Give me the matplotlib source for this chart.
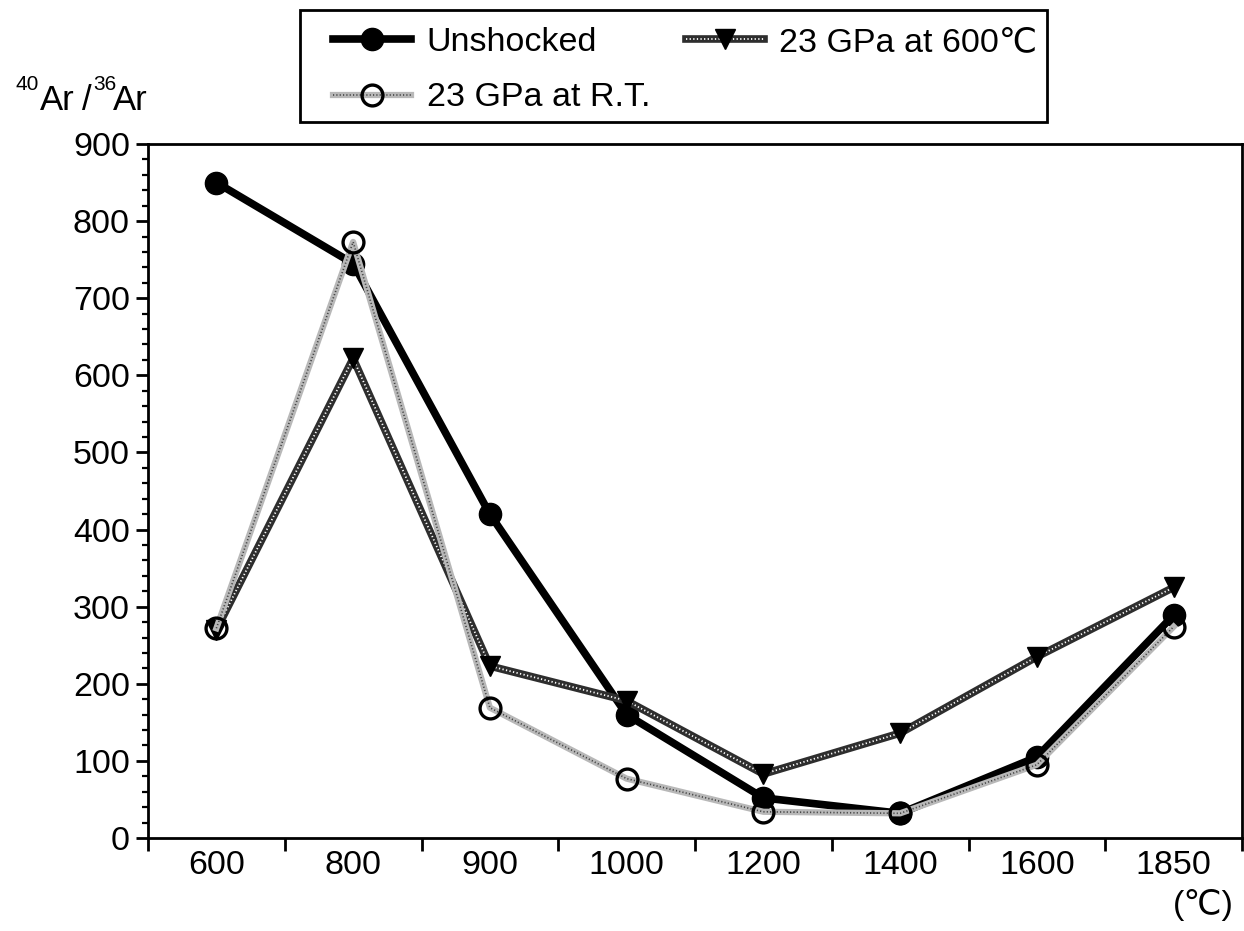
import matplotlib
matplotlib.use("Agg")
import matplotlib.pyplot as plt
import numpy as np
from matplotlib.patches import Rectangle
from matplotlib.ticker import FixedLocator, MultipleLocator, NullFormatter

plt.rcParams['font.family'] = ['Liberation Sans', 'DejaVu Sans']

# Heating steps (degrees C) and 40Ar/36Ar ratios
temperatures = ["600", "800", "900", "1000", "1200", "1400", "1600", "1850"]
unshocked = [850, 745, 420, 160, 52, 32, 105, 289]
shocked_600c = [270, 622, 223, 178, 83, 136, 235, 325]
shocked_rt = [272, 773, 169, 77, 34, 32, 95, 274]

FS = 24.5
W, H = 1244, 931

fig = plt.figure(figsize=(W / 100, H / 100), dpi=100)
ax = fig.add_axes([148/W, 1-838/H, (1242-148)/W, (838-144)/H])

x = np.arange(len(temperatures)) + 0.5

# solid black series
h_un, = ax.plot(x, unshocked, color='black', lw=5.5, marker='o', ms=16,
                mfc='black', mec='black', solid_joinstyle='round', zorder=3)

# dark screened series: dark band with a fine white dot pattern on top
h_6a, = ax.plot(x, shocked_600c, color='#2e2e2e', lw=5.5, zorder=4)
h_6b, = ax.plot(x, shocked_600c, color='white', lw=1.3,
                linestyle=(0, (0.7, 1.3)), marker='v', ms=15,
                mfc='black', mec='black', zorder=4.1)

# light screened series: pale band with a fine dark dot pattern on top
h_ra, = ax.plot(x, shocked_rt, color='#b8b8b8', lw=4.5, zorder=5)
h_rb, = ax.plot(x, shocked_rt, color='#444444', lw=1.2,
                linestyle=(0, (0.7, 1.3)), marker='o', ms=15,
                mfc='none', mec='black', mew=2.4, zorder=5.1)

ax.set_xlim(0, len(temperatures))
ax.set_ylim(0, 900)

# category boundaries carry the tick marks, centres carry the labels
ax.xaxis.set_major_locator(FixedLocator(np.arange(len(temperatures) + 1)))
ax.xaxis.set_major_formatter(NullFormatter())
ax.xaxis.set_minor_locator(FixedLocator(x))
ax.set_xticklabels(temperatures, minor=True)
ax.tick_params(axis='x', which='major', direction='out', length=9, width=2)
ax.tick_params(axis='x', which='minor', length=0, pad=9, labelsize=FS)

ax.yaxis.set_major_locator(MultipleLocator(100))
ax.yaxis.set_minor_locator(MultipleLocator(20))
ax.tick_params(axis='y', which='major', direction='out', length=9, width=2,
               labelsize=FS, pad=4)
ax.tick_params(axis='y', which='minor', direction='out', length=4, width=1.6)

for s in ax.spines.values():
    s.set_linewidth(2)

# y-axis title: 40Ar / 36Ar built from pieces with raised mass numbers
def px(xp, yp):
    return xp / W, 1 - yp / H

for txt, (xp, yp), size in [("40", (16, 90), 15), ("Ar", (40, 110), 25),
                            ("/", (82, 110), 25), ("36", (93, 90), 15),
                            ("Ar", (113, 110), 25)]:
    fig.text(*px(xp, yp), txt, fontsize=size, ha='left', va='baseline')

fig.text(1203/W, 1-905/H, '(℃)', fontsize=FS, ha='center', va='center')

# legend frame
fig.patches.append(Rectangle((300/W, 1-122/H), (1047-300)/W, (122-10)/H,
                             transform=fig.transFigure, fill=False,
                             edgecolor='black', lw=2))

leg = fig.legend([h_un, (h_ra, h_rb), (h_6a, h_6b)],
                 ['Unshocked', '23 GPa at R.T.', '23 GPa at 600℃'],
                 loc='upper left', bbox_to_anchor=(333/W, 1-27/H),
                 ncol=2, fontsize=FS, frameon=False,
                 handlelength=2.3, handletextpad=0.45,
                 columnspacing=1.05, borderpad=0, labelspacing=0.72,
                 borderaxespad=0)

fig.savefig('out.png', dpi=100, facecolor='white')
